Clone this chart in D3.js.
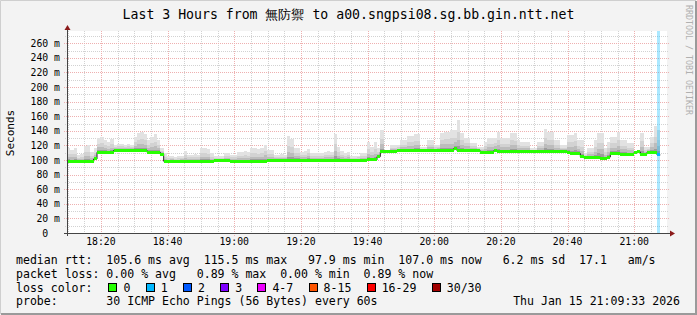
<!DOCTYPE html>
<html>
<head>
<meta charset="utf-8">
<script src="https://cdn.jsdelivr.net/npm/d3@7"></script>
<style>
  html, body { margin: 0; padding: 0; background: #f3f3f3; }
  svg { display: block; }
  text { font-family: "DejaVu Sans Mono", monospace; fill: #000; }
</style>
</head>
<body>
<div class="graph"></div>
<script>
// ---- data ----
var title = "Last 3 Hours from 無防禦 to a00.sngpsi08.sg.bb.gin.ntt.net";
var startTime = new Date(2026, 0, 15, 18, 9, 50);
var endTime = new Date(2026, 0, 15, 21, 9, 50);
var yTicks = [0, 20, 40, 60, 80, 100, 120, 140, 160, 180, 200, 220, 240, 260];
var xTickLabels = ["18:20", "18:40", "19:00", "19:20", "19:40", "20:00", "20:20", "20:40", "21:00"];

// median rtt (ms), one value per 60s step
var median = [
  98.0, 98.0, 98.0, 98.0, 98.0, 98.0, 98.0, 98.0, 101.4, 110.6,
  110.6, 110.6, 110.6, 110.6, 113.3, 113.3, 113.3, 113.3, 113.3, 113.3,
  113.3, 113.3, 113.3, 113.3, 110.6, 110.6, 110.6, 110.6, 107.9, 98.3,
  98.3, 98.3, 98.3, 98.3, 98.3, 98.3, 98.3, 98.3, 98.3, 98.3,
  98.3, 98.3, 98.3, 98.3, 99.5, 99.5, 99.5, 99.5, 99.5, 98.4,
  98.4, 98.4, 98.4, 98.4, 98.4, 98.4, 98.4, 98.4, 98.4, 98.4,
  99.8, 99.8, 99.8, 99.8, 99.8, 99.8, 99.8, 99.8, 99.8, 99.8,
  99.8, 99.8, 99.8, 99.8, 99.8, 99.8, 99.8, 99.8, 99.8, 99.8,
  99.8, 99.8, 99.8, 99.8, 99.8, 99.8, 99.8, 99.8, 99.8, 99.8,
  100.2, 100.2, 100.2, 104.6, 111.0, 111.0, 111.0, 111.0, 111.0, 112.4,
  112.4, 112.4, 112.4, 112.4, 112.4, 112.4, 112.4, 112.4, 112.4, 112.4,
  112.4, 113.1, 113.1, 113.1, 112.4, 112.4, 115.5, 112.6, 112.6, 112.6,
  112.6, 112.6, 112.6, 112.6, 110.6, 110.6, 110.6, 110.6, 112.6, 111.5,
  111.5, 111.5, 111.5, 111.5, 111.0, 111.0, 111.0, 111.0, 111.0, 111.0,
  111.0, 111.0, 111.0, 111.0, 111.0, 111.0, 111.0, 111.0, 111.0, 111.0,
  109.7, 109.0, 109.0, 109.0, 104.5, 103.0, 103.0, 103.0, 103.0, 104.0,
  102.6, 102.6, 104.0, 109.0, 109.0, 109.0, 108.0, 108.0, 108.0, 108.0,
  109.7, 111.0, 108.0, 108.0, 110.6, 109.7, 109.7, 107.0
];

// top of the smoke (slowest ping of the step, ms)
var smokeMax = [
  116, 114, 116, 107, 108, 119, 120, 111, 116, 130,
  132, 127, 125, 129, 121, 122, 122, 121, 122, 121,
  132, 137, 138, 136, 128, 132, 135, 128, 116, 109,
  105, 106, 104, 105, 106, 112, 107, 107, 108, 107,
  116, 116, 115, 109, 105, 105, 106, 109, 109, 107,
  107, 111, 111, 112, 111, 116, 116, 115, 116, 121,
  114, 114, 107, 107, 108, 107, 133, 129, 116, 116,
  111, 112, 115, 109, 109, 110, 109, 111, 112, 111,
  136, 118, 112, 110, 111, 105, 105, 106, 110, 110,
  124, 118, 124, 116, 141, 114, 114, 121, 121, 121,
  127, 127, 133, 133, 136, 136, 118, 118, 127, 127,
  121, 121, 137, 139, 139, 141, 141, 155, 137, 130,
  130, 123, 123, 118, 118, 125, 130, 130, 130, 139,
  130, 130, 130, 137, 137, 127, 125, 125, 125, 116,
  116, 125, 125, 143, 139, 139, 127, 127, 121, 121,
  134, 134, 137, 127, 127, 109, 116, 116, 127, 137,
  137, 116, 125, 132, 132, 139, 127, 127, 123, 123,
  112, 112, 137, 118, 118, 132, 147, 141
];

// steps with lost pings
var lossSteps = [177];
var lossCounts = [1];

var lossLabels = ["0", "1", "2", "3", "4-7", "8-15", "16-29", "30/30"];
var lossColors = ["#26ff00", "#00b8ff", "#0059ff", "#7e00ff", "#ee00ff", "#ff5500", "#ff0000", "#a10000"];
var lossMin = [0, 1, 2, 3, 4, 8, 16, 30];

var legendRtt = "median rtt:  105.6 ms avg  115.5 ms max   97.9 ms min  107.0 ms now   6.2 ms sd  17.1   am/s";
var legendLoss = "packet loss: 0.00 % avg   0.89 % max  0.00 % min  0.89 % now";
var legendProbe = "probe:       30 ICMP Echo Pings (56 Bytes) every 60s";
var legendDate = "Thu Jan 15 21:09:33 2026";

// ---- layout ----
var W = 697, H = 315;
var plot = {left: 67, right: 667, top: 33, bottom: 233};
var legendFont = 11.55, charW = legendFont * 0.602;

var svg = d3.select(".graph").append("svg")
    .attr("width", W)
    .attr("height", H);

// frame
svg.append("rect").attr("width", W).attr("height", H).attr("fill", "#f3f3f3");
svg.append("path").attr("d", "M0.5," + (H - 1) + "V0.5H" + (W - 1))
    .attr("stroke", "#cfcfcf").attr("fill", "none");
svg.append("path").attr("d", "M1," + (H - 1) + "H" + (W - 1) + "V1")
    .attr("stroke", "#9a9a9a").attr("stroke-width", 2).attr("fill", "none");

var x = d3.scaleTime()
    .domain([startTime, endTime])
    .range([plot.left, plot.right]);

var y = d3.scaleLinear()
    .domain([0, 274])
    .range([plot.bottom, plot.top]);

function stepStart(i) { return d3.timeMinute.offset(startTime, i); }

// plot canvas
svg.append("rect")
    .attr("x", plot.left).attr("y", plot.top - 2)
    .attr("width", plot.right - plot.left).attr("height", plot.bottom - plot.top + 2)
    .attr("fill", "#fff");

var grid = svg.append("g").attr("shape-rendering", "crispEdges");

// minor horizontal grid every 10 ms
d3.range(10, 274, 10).filter(function(v) { return v % 20 !== 0; }).forEach(function(v) {
  grid.append("line")
      .attr("x1", plot.left - 2).attr("x2", plot.right + 2)
      .attr("y1", Math.round(y(v)) + 0.5).attr("y2", Math.round(y(v)) + 0.5)
      .attr("stroke", "#d2d2d2").attr("stroke-dasharray", "1,1");
});

// minor vertical grid every 5 minutes
d3.timeMinute.every(5).range(startTime, endTime).forEach(function(t) {
  if (t.getMinutes() % 20 === 0) return;
  grid.append("line")
      .attr("x1", Math.round(x(t)) + 0.5).attr("x2", Math.round(x(t)) + 0.5)
      .attr("y1", plot.top - 2).attr("y2", plot.bottom + 2)
      .attr("stroke", "#d2d2d2").attr("stroke-dasharray", "1,1");
});

// major grid
var majorColor = "#eeb0b0";
var majorTimes = d3.timeMinute.every(20).range(startTime, endTime);
majorTimes.forEach(function(t) {
  grid.append("line")
      .attr("x1", Math.round(x(t)) + 0.5).attr("x2", Math.round(x(t)) + 0.5)
      .attr("y1", plot.top - 2).attr("y2", plot.bottom + 3)
      .attr("stroke", majorColor).attr("stroke-dasharray", "1,1");
});
yTicks.slice(1).forEach(function(v) {
  grid.append("line")
      .attr("x1", plot.left - 3).attr("x2", plot.right + 3)
      .attr("y1", Math.round(y(v)) + 0.5).attr("y2", Math.round(y(v)) + 0.5)
      .attr("stroke", majorColor).attr("stroke-dasharray", "1,1");
});

// smoke: shaded from the slowest ping down to the median
var smokeBands = [
  {f: 1.0, color: "#e2e2e2"},
  {f: 0.6, color: "#d2d2d2"},
  {f: 0.35, color: "#bcbcbc"},
  {f: 0.15, color: "#9c9c9c"}
];
var smoke = svg.append("g").attr("shape-rendering", "crispEdges");
smokeBands.forEach(function(b) {
  smoke.selectAll(null)
      .data(median)
      .enter().append("rect")
      .attr("x", function(d, i) { return Math.round(x(stepStart(i))); })
      .attr("width", function(d, i) { return Math.round(x(stepStart(i + 1))) - Math.round(x(stepStart(i))); })
      .attr("y", function(d, i) { return y(d + (smokeMax[i] - d) * b.f); })
      .attr("height", function(d, i) { return y(d) - y(d + (smokeMax[i] - d) * b.f) + 1; })
      .attr("fill", b.color);
});

function lossColor(n) {
  var k = 0;
  lossMin.forEach(function(m, j) { if (n >= m) k = j; });
  return lossColors[k];
}

// loss marker bars
svg.append("g").attr("shape-rendering", "crispEdges")
  .selectAll("rect")
  .data(lossSteps)
  .enter().append("rect")
    .attr("x", function(s) { return Math.round(x(stepStart(s))); })
    .attr("width", function(s) { return Math.round(x(stepStart(s + 1))) - Math.round(x(stepStart(s))); })
    .attr("y", plot.top - 2)
    .attr("height", plot.bottom - plot.top + 2)
    .attr("fill", function(s, j) { return lossColor(lossCounts[j]); })
    .attr("fill-opacity", 0.33);

// median: dark step line, then loss-coloured segments
var medianPts = median.map(function(d, i) { return [stepStart(i), d]; });
medianPts.push([stepStart(median.length), median[median.length - 1]]);
svg.append("path")
    .datum(medianPts)
    .attr("fill", "none")
    .attr("stroke", "#202020")
    .attr("stroke-width", 1)
    .attr("d", d3.line().curve(d3.curveStepAfter)
        .x(function(p) { return x(p[0]); })
        .y(function(p) { return y(p[1]); }));

svg.append("g").attr("shape-rendering", "crispEdges")
  .selectAll("rect")
  .data(median)
  .enter().append("rect")
    .attr("x", function(d, i) { return Math.round(x(stepStart(i))); })
    .attr("width", function(d, i) { return Math.round(x(stepStart(i + 1))) - Math.round(x(stepStart(i))); })
    .attr("y", function(d) { return Math.round(y(d) - 1.5); })
    .attr("height", 3)
    .attr("fill", function(d, i) {
      var j = lossSteps.indexOf(i);
      return lossColor(j < 0 ? 0 : lossCounts[j]);
    });

// axes
var axisColor = "#444";
svg.append("line")
    .attr("x1", plot.left + 0.5).attr("x2", plot.left + 0.5)
    .attr("y1", plot.bottom + 3).attr("y2", plot.top - 4)
    .attr("stroke", axisColor);
svg.append("line")
    .attr("x1", plot.left - 3).attr("x2", plot.right + 4)
    .attr("y1", plot.bottom + 0.5).attr("y2", plot.bottom + 0.5)
    .attr("stroke", axisColor);
svg.append("path")
    .attr("d", "M" + (plot.left - 2.5) + "," + (plot.top - 3) + "L" + (plot.left + 0.5) + "," + (plot.top - 8) +
               "L" + (plot.left + 3.5) + "," + (plot.top - 3) + "Z")
    .attr("fill", "#8b1a1a");
svg.append("path")
    .attr("d", "M" + (plot.right + 3) + "," + (plot.bottom - 2.5) + "L" + (plot.right + 8) + "," + (plot.bottom + 0.5) +
               "L" + (plot.right + 3) + "," + (plot.bottom + 3.5) + "Z")
    .attr("fill", "#8b1a1a");

// y labels
svg.append("g")
  .selectAll("text")
  .data(yTicks)
  .enter().append("text")
    .attr("x", 60)
    .attr("y", function(v) { return y(v) + 3.5; })
    .attr("text-anchor", "end")
    .style("white-space", "pre")
    .style("font-size", "9.8px")
    .text(function(v) { return v === 0 ? "0  " : v + " m"; });

// x labels
svg.append("g")
  .selectAll("text")
  .data(majorTimes)
  .enter().append("text")
    .attr("x", function(t) { return x(t); })
    .attr("y", 245)
    .attr("text-anchor", "middle")
    .style("font-size", "9.8px")
    .text(function(t, i) { return xTickLabels[i]; });

svg.append("text")
    .attr("transform", "translate(14," + ((plot.top + plot.bottom) / 2) + ") rotate(-90)")
    .attr("text-anchor", "middle")
    .style("font-size", "11px")
    .text("Seconds");

svg.append("text")
    .attr("x", W / 2)
    .attr("y", 19)
    .attr("text-anchor", "middle")
    .style("font-size", "13.2px")
    .text(title);

svg.append("text")
    .attr("transform", "translate(686,5) rotate(90)")
    .style("font-size", "8.3px")
    .style("fill", "#b0b0b0")
    .text("RRDTOOL / TOBI OETIKER");

// legend
var legend = svg.append("g").style("font-size", legendFont + "px");
legend.append("text").attr("x", 16).attr("y", 264).style("white-space", "pre").text(legendRtt);
legend.append("text").attr("x", 16).attr("y", 277.5).style("white-space", "pre").text(legendLoss);
legend.append("text").attr("x", 16).attr("y", 291.5).style("white-space", "pre").text("loss color:");
legend.append("text").attr("x", 16).attr("y", 305).style("white-space", "pre").text(legendProbe);
legend.append("text").attr("x", 680).attr("y", 305).attr("text-anchor", "end").text(legendDate);

var bx = 16 + 13 * charW + 2;
lossLabels.forEach(function(lab, i) {
  legend.append("rect")
      .attr("x", Math.round(bx) + 0.5).attr("y", 283.5)
      .attr("width", 8).attr("height", 8)
      .attr("fill", lossColors[i])
      .attr("stroke", "#000");
  legend.append("text").attr("x", bx + 15).attr("y", 291.5).text(lab);
  bx += 15 + lab.length * charW + 15.3;
});
</script>
</body>
</html>
